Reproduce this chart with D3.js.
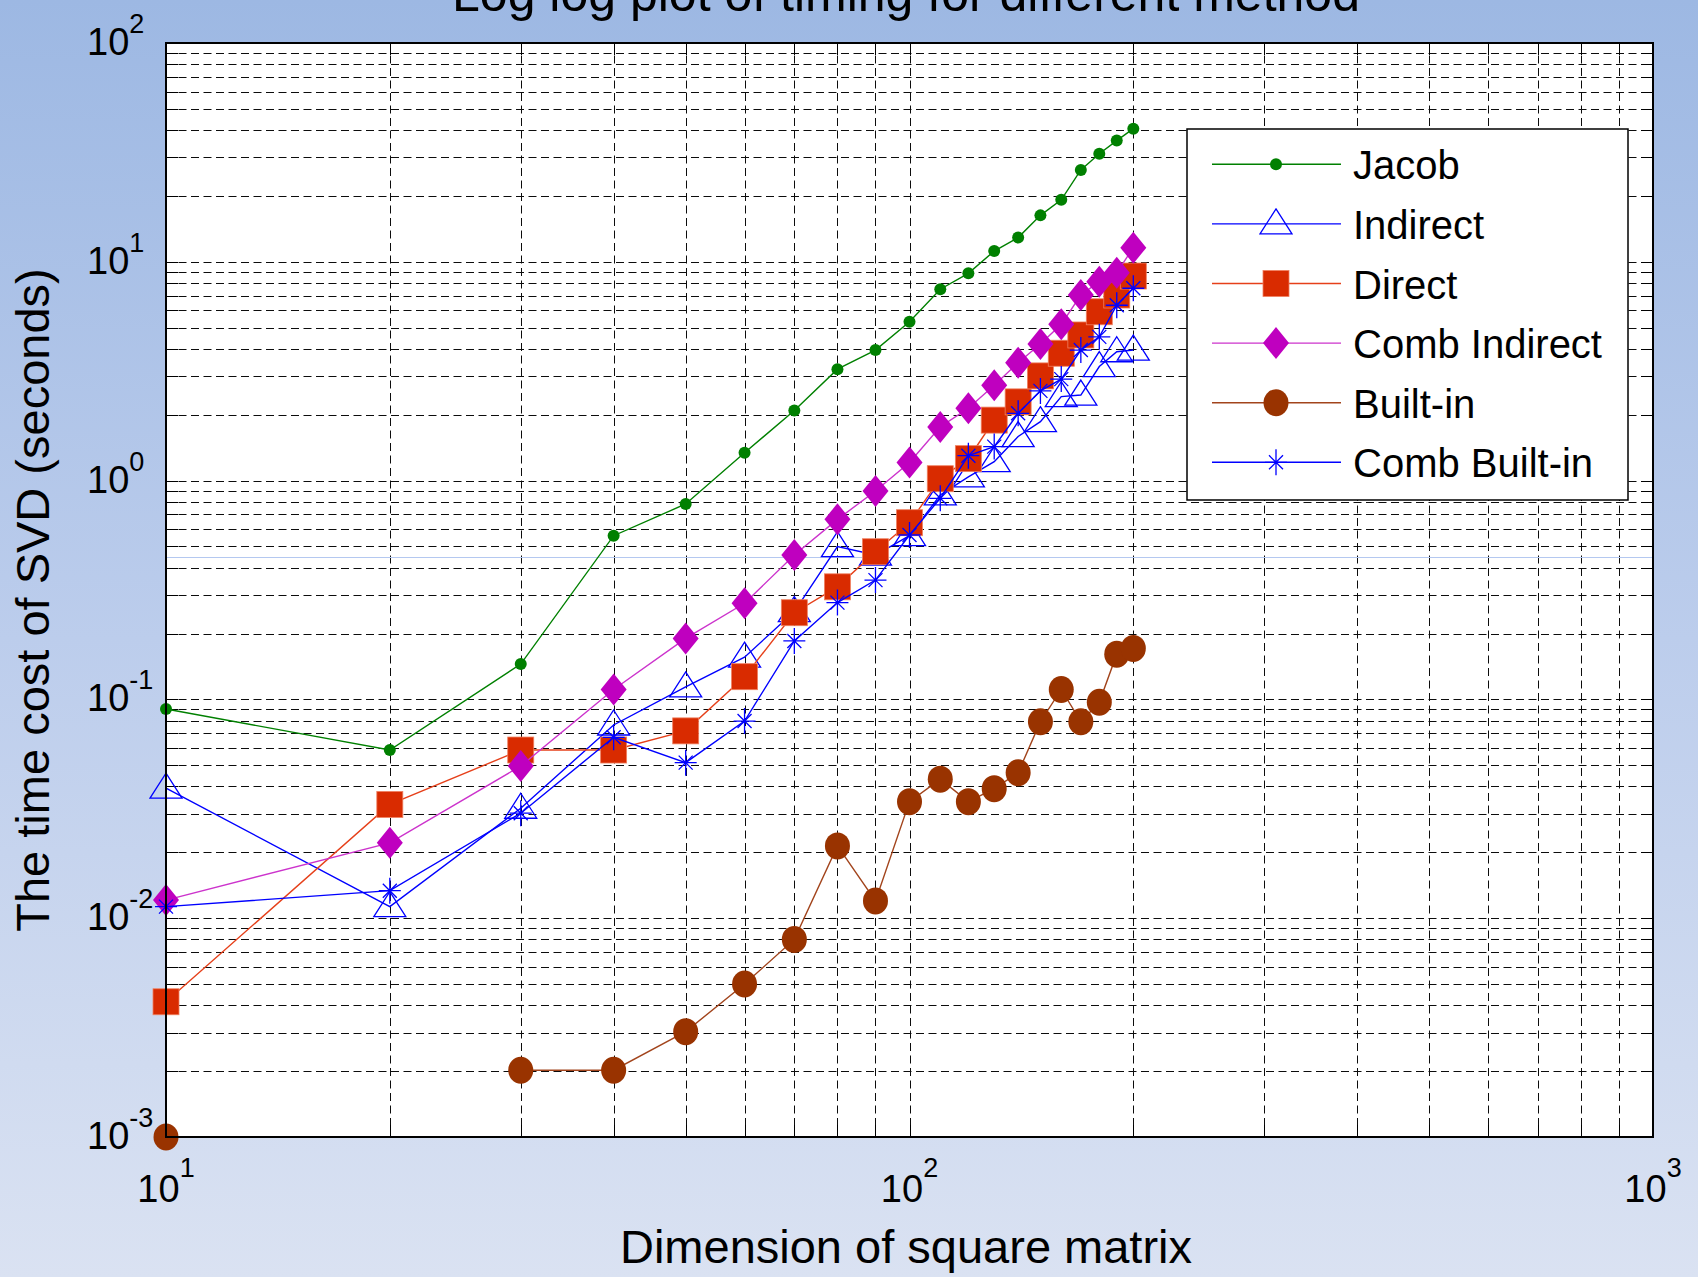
<!DOCTYPE html>
<html>
<head>
<meta charset="utf-8">
<script src="https://cdn.jsdelivr.net/npm/d3@7"></script>
<style>
  html, body { margin: 0; padding: 0; overflow: hidden; }
  svg { display: block; font-family: "Liberation Sans", Arial, sans-serif; }
</style>
</head>
<body>
<svg id="chart" width="1698" height="1277"></svg>
<script>
// ---------- data ----------
const dims = [10, 20, 30, 40, 50, 60, 70, 80, 90, 100, 110, 120, 130, 140, 150, 160, 170, 180, 190, 200];
const jacob = [0.0904, 0.0587, 0.145, 0.560, 0.782, 1.34, 2.09, 3.23, 3.95, 5.32, 7.49, 8.86, 11.2, 12.9, 16.3, 19.2, 26.3, 31.2, 35.8, 40.6];
const indirect = [0.0393, 0.0113, 0.0318, 0.0764, 0.114, 0.156, 0.252, 0.499, 0.457, 0.56, 0.86, 1.04, 1.22, 1.59, 1.86, 2.42, 2.46, 3.32, 3.88, 3.95];
const direct = [0.00415, 0.0331, 0.0587, 0.0587, 0.0718, 0.127, 0.249, 0.327, 0.473, 0.642, 1.02, 1.26, 1.89, 2.29, 3.01, 3.82, 4.63, 5.91, 7.05, 8.61];
const combIndirect = [0.0121, 0.0221, 0.0496, 0.111, 0.190, 0.275, 0.457, 0.665, 0.896, 1.21, 1.76, 2.14, 2.73, 3.46, 4.21, 5.18, 7.05, 8.11, 8.92, 11.6];
const builtIn = [0.001, null, 0.00202, 0.00202, 0.00303, 0.0050, 0.0080, 0.0214, 0.0120, 0.0341, 0.0432, 0.0341, 0.0391, 0.0462, 0.0791, 0.111, 0.0791, 0.097, 0.161, 0.171];
const combBuiltIn = [0.0113, 0.01336, 0.0302, 0.0671, 0.0514, 0.0796, 0.185, 0.277, 0.351, 0.564, 0.830, 1.30, 1.43, 2.03, 2.57, 2.91, 3.95, 4.54, 6.33, 7.57];

const seriesNames = ["Jacob", "Indirect", "Direct", "Comb Indirect", "Built-in", "Comb Built-in"];
const xTickExps = [1, 2, 3];
const yTickExps = [2, 1, 0, -1, -2, -3];
const refLineValue = 0.448;

const titleText = "Log log plot of timing for different method";
const xLabel = "Dimension of square matrix";
const yLabel = "The time cost of SVD (seconds)";

// ---------- layout ----------
const W = 1698, H = 1277;
const L = 166, R = 1653, T = 43, B = 1137;

const svg = d3.select("#chart");
const defs = svg.append("defs");
const grad = defs.append("linearGradient").attr("id", "bg").attr("x1", 0).attr("y1", 0).attr("x2", 0).attr("y2", 1);
grad.append("stop").attr("offset", "0%").attr("stop-color", "#9db8e3");
grad.append("stop").attr("offset", "50%").attr("stop-color", "#bccdec");
grad.append("stop").attr("offset", "100%").attr("stop-color", "#dae2f2");
svg.append("rect").attr("width", W).attr("height", H).attr("fill", "url(#bg)");

const x = d3.scaleLog().domain([10, 1000]).range([L, R]);
const y = d3.scaleLog().domain([0.001, 100]).range([B, T]);

// plot background
svg.append("rect").attr("x", L).attr("y", T).attr("width", R - L).attr("height", B - T).attr("fill", "#ffffff");

// grid values
const xGrid = [];
for (let d = 10; d < 1000; d *= 10) for (let k = 1; k <= 9; k++) xGrid.push(d * k);
xGrid.push(1000);
const yGrid = [];
for (let d = 0.001; d < 99; d *= 10) for (let k = 1; k <= 9; k++) yGrid.push(+(d * k).toPrecision(3));
yGrid.push(100);

const grid = svg.append("g").attr("stroke", "#000").attr("stroke-width", 1).attr("stroke-dasharray", "8,4.5").attr("opacity", 0.95);
grid.selectAll("line.gx").data(xGrid.filter(v => v > 10 && v < 1000)).enter().append("line")
  .attr("x1", d => Math.round(x(d)) + 0.5).attr("x2", d => Math.round(x(d)) + 0.5)
  .attr("y1", T).attr("y2", B);
grid.selectAll("line.gy").data(yGrid.filter(v => v > 0.001 && v < 100)).enter().append("line")
  .attr("y1", d => Math.round(y(d)) + 0.5).attr("y2", d => Math.round(y(d)) + 0.5)
  .attr("x1", L).attr("x2", R);

// light reference line artifact
svg.append("line").attr("x1", L).attr("x2", R)
  .attr("y1", Math.round(y(refLineValue)) + 0.5).attr("y2", Math.round(y(refLineValue)) + 0.5)
  .attr("stroke", "#b4c8f0").attr("stroke-width", 1);

// ticks (inward, all four sides)
const tk = svg.append("g").attr("stroke", "#000").attr("stroke-width", 1);
const tl = 12;
xGrid.forEach(v => {
  const px = Math.round(x(v)) + 0.5;
  tk.append("line").attr("x1", px).attr("x2", px).attr("y1", B).attr("y2", B - tl);
  tk.append("line").attr("x1", px).attr("x2", px).attr("y1", T).attr("y2", T + tl);
});
yGrid.forEach(v => {
  const py = Math.round(y(v)) + 0.5;
  tk.append("line").attr("y1", py).attr("y2", py).attr("x1", L).attr("x2", L + tl);
  tk.append("line").attr("y1", py).attr("y2", py).attr("x1", R).attr("x2", R - tl);
});

// ---------- series ----------
const series = [
  { name: seriesNames[0], vals: jacob, line: "#008000", marker: "circleSmall", fill: "#008000" },
  { name: seriesNames[1], vals: indirect, line: "#0000ff", marker: "triangle", fill: "#0000ff" },
  { name: seriesNames[2], vals: direct, line: "#e6401a", marker: "square", fill: "#d92b00" },
  { name: seriesNames[3], vals: combIndirect, line: "#cc33cc", marker: "diamond", fill: "#bf00bf" },
  { name: seriesNames[4], vals: builtIn, line: "#a2441c", marker: "circle", fill: "#993300" },
  { name: seriesNames[5], vals: combBuiltIn, line: "#0000ff", marker: "asterisk", fill: "#0000ff" }
];

function drawMarker(g, type, cx, cy, color) {
  if (type === "circleSmall") {
    g.append("circle").attr("cx", cx).attr("cy", cy).attr("r", 6).attr("fill", color);
  } else if (type === "circle") {
    g.append("ellipse").attr("cx", cx).attr("cy", cy).attr("rx", 12.5).attr("ry", 13.5).attr("fill", color);
  } else if (type === "square") {
    g.append("rect").attr("x", cx - 13).attr("y", cy - 13).attr("width", 26).attr("height", 26)
      .attr("fill", color).attr("stroke", "#f08060").attr("stroke-width", 0.8);
  } else if (type === "diamond") {
    g.append("path").attr("d", `M${cx},${cy - 16}L${cx + 13},${cy}L${cx},${cy + 16}L${cx - 13},${cy}Z`).attr("fill", color);
  } else if (type === "triangle") {
    g.append("path").attr("d", `M${cx},${cy - 15}L${cx + 16},${cy + 10}L${cx - 16},${cy + 10}Z`)
      .attr("fill", "none").attr("stroke", color).attr("stroke-width", 1.3);
  } else if (type === "asterisk") {
    const p = `M${cx},${cy - 13}L${cx},${cy + 13}M${cx - 11},${cy}L${cx + 11},${cy}` +
      `M${cx - 7},${cy - 7}L${cx + 7},${cy + 7}M${cx - 7},${cy + 7}L${cx + 7},${cy - 7}`;
    g.append("path").attr("d", p).attr("stroke", color).attr("stroke-width", 1.3).attr("fill", "none");
  }
}

const lineGen = d3.line().defined(d => d.v != null && d.v > 0).x(d => x(d.x)).y(d => y(d.v));

series.forEach(s => {
  const g = svg.append("g");
  const pts = dims.map((d, i) => ({ x: d, v: s.vals[i] }));
  g.append("path").attr("d", lineGen(pts)).attr("fill", "none").attr("stroke", s.line).attr("stroke-width", 1.4);
  pts.filter(p => p.v != null && p.v > 0).forEach(p => drawMarker(g, s.marker, x(p.x), y(p.v), s.fill));
});

// axes box
svg.append("rect").attr("x", L).attr("y", T).attr("width", R - L).attr("height", B - T)
  .attr("fill", "none").attr("stroke", "#000").attr("stroke-width", 2);

// ---------- tick labels ----------
xTickExps.forEach(e => {
  const t = svg.append("text").attr("x", x(Math.pow(10, e))).attr("y", 1202)
    .attr("text-anchor", "middle").attr("font-size", 38).attr("fill", "#000");
  t.append("tspan").text("10");
  t.append("tspan").attr("dy", -25).attr("font-size", 27).text(String(e));
});
yTickExps.forEach(e => {
  const py = y(Math.pow(10, e));
  const t = svg.append("text").attr("x", 87).attr("y", py + 12)
    .attr("text-anchor", "start").attr("font-size", 38).attr("fill", "#000");
  t.append("tspan").text("10");
  t.append("tspan").attr("dy", -22).attr("font-size", 27).text(String(e));
});

// ---------- labels ----------
svg.append("text").attr("x", 906).attr("y", 11).attr("text-anchor", "middle")
  .attr("font-size", 50).attr("fill", "#000").text(titleText);
svg.append("text").attr("x", 906).attr("y", 1263).attr("text-anchor", "middle")
  .attr("font-size", 47).attr("fill", "#000").text(xLabel);
svg.append("text").attr("transform", "translate(49,600) rotate(-90)").attr("text-anchor", "middle")
  .attr("font-size", 47).attr("fill", "#000").text(yLabel);

// ---------- legend ----------
const lg = svg.append("g");
lg.append("rect").attr("x", 1187).attr("y", 129).attr("width", 441).attr("height", 371)
  .attr("fill", "#fff").attr("stroke", "#000").attr("stroke-width", 1.5);
series.forEach((s, i) => {
  const cy = 164.3 + i * 59.6;
  lg.append("line").attr("x1", 1212).attr("x2", 1341).attr("y1", cy).attr("y2", cy)
    .attr("stroke", s.line).attr("stroke-width", 1.4);
  drawMarker(lg, s.marker, 1276, cy, s.fill);
  lg.append("text").attr("x", 1353).attr("y", cy + 15).attr("font-size", 40).attr("fill", "#000").text(s.name);
});
</script>
</body>
</html>
